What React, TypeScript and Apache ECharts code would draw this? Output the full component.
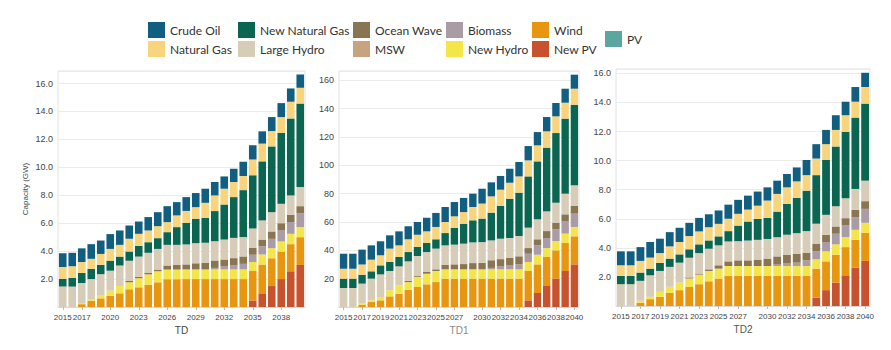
import React, { useEffect, useRef } from 'react';
import * as echarts from 'echarts';

const years = ['2015','2016','2017','2018','2019','2020','2021','2022','2023','2024','2025','2026','2027','2028','2029','2030','2031','2032','2033','2034','2035','2036','2037','2038','2039','2040'];

const tdLabelIdx = [0, 2, 5, 8, 11, 14, 17, 20, 23];
const td12LabelIdx = [0, 2, 4, 6, 8, 10, 12, 15, 17, 19, 21, 23, 25];

const stackOrder = ['New PV', 'Wind', 'New Hydro', 'Biomass', 'Ocean Wave', 'MSW', 'Large Hydro', 'New Natural Gas', 'Natural Gas', 'Crude Oil', 'PV'];
const legendRow1 = ['Crude Oil', 'New Natural Gas', 'Ocean Wave', 'Biomass', 'Wind'];
const legendRow2 = ['Natural Gas', 'Large Hydro', 'MSW', 'New Hydro', 'New PV'];
const legendExtra = ['PV'];

const colorMap: Record<string, string> = {
  'Crude Oil': '#115e80',
  'New Natural Gas': '#0b6651',
  'Ocean Wave': '#8a7552',
  'Biomass': '#a99ca4',
  'Wind': '#e8960f',
  'Natural Gas': '#f8d57d',
  'Large Hydro': '#d7ccb8',
  'MSW': '#c7a380',
  'New Hydro': '#f4e64a',
  'New PV': '#c8522e',
  'PV': '#5ba6a0',
};

// ---- TD (GW) ----
const tdNewPV = [0,0,0,0,0,0,0,0,0,0,0,0,0,0,0,0,0,0,0,0,0.47,0.98,1.5,2.0,2.56,3.01];
const tdWind = [0,0,0.2,0.45,0.62,0.81,0.98,1.27,1.41,1.6,1.77,1.99,1.99,2.0,2.0,2.0,2.0,2.0,2.0,2.0,2.1,2.06,1.99,1.97,1.94,1.99];
const tdNewHydro = [0,0,0.09,0.12,0.24,0.36,0.52,0.5,0.65,0.74,0.79,0.69,0.69,0.69,0.69,0.69,0.69,0.69,0.69,0.69,0.66,0.72,0.72,0.72,0.74,0.72];
const tdBiomass = [0,0,0,0,0,0,0,0,0,0,0,0,0,0,0,0,0.11,0.21,0.31,0.4,0.51,0.59,0.67,0.79,0.84,1.0];
const tdOceanWave = [0,0,0,0,0,0,0,0.1,0.1,0.12,0.12,0.29,0.33,0.36,0.44,0.46,0.53,0.5,0.5,0.53,0.48,0.48,0.53,0.52,0.52,0.5];
const tdMSW = [0,0,0,0,0,0,0,0,0,0,0,0,0,0,0,0,0,0,0,0,0,0,0,0,0,0];
const tdLargeHydro = [1.46,1.46,1.43,1.43,1.49,1.43,1.47,1.45,1.45,1.42,1.48,1.48,1.44,1.43,1.44,1.45,1.38,1.43,1.45,1.39,1.41,1.37,1.38,1.39,1.39,1.37];
const tdNewNaturalGas = [0.57,0.62,0.72,0.73,0.67,0.72,0.64,0.65,0.77,0.76,0.77,0.91,1.27,1.54,1.75,1.79,2.16,2.51,2.92,3.36,3.81,4.23,4.71,5.07,5.51,5.98];
const tdNaturalGas = [0.84,0.84,0.78,0.72,0.78,0.84,0.84,0.91,0.86,0.84,0.86,0.72,0.84,0.86,0.83,1.07,1.12,1.13,1.08,1.01,1.13,1.27,1.1,1.14,1.2,1.13];
const tdCrudeOil = [0.98,0.96,0.98,1.05,0.96,1.06,1.03,0.96,0.88,0.96,1.0,1.14,0.95,0.99,1.01,1.01,0.96,0.88,0.95,1.02,1.01,0.88,1.0,1.0,0.95,0.95];
const tdPV = [0,0,0,0,0,0,0,0,0,0,0,0,0,0,0,0,0,0,0,0,0,0,0,0,0,0];

// ---- TD1 ----
const td1NewPV = [0,0,0,0,0,0,0,0,0,0,0,0,0,0,0,0,0,0,0,0,4.7,9.9,15.3,20,25.4,30.1];
const td1Wind = [0,0,1.6,3.5,4.7,7.5,9.4,12.2,14.1,16,17.6,20,20,20,20,20,20,20,20,20,20.7,20.2,20,20,19.8,19.8];
const td1NewHydro = [0,0,0.8,1.2,2.3,4.3,5.9,5.4,7.1,7.5,7.8,6.6,6.6,6.6,6.6,6.6,6.6,6.6,6.6,6.6,6.4,6.8,6.3,6.6,6.6,6.6];
const td1Biomass = [0,0,0,0,0,0,0,0,0,0,0,0,0,0,0,0,1.0,2.0,3.0,3.5,5.8,6.6,7.1,8.2,8.9,9.4];
const td1OceanWave = [0,0,0,0,0,0,0,0.8,0.6,1.2,1.2,3.3,3.5,3.7,4.4,4.6,5.4,5.2,5.0,5.7,4.0,4.3,4.9,4.7,4.7,5.4];
const td1MSW = [0,0,0,0,0,0,0,0,0,0,0,0,0,0,0,0,0,0,0,0,0,0,0,0,0,0];
const td1LargeHydro = [13.4,13.4,14.1,15.3,16,13.6,13.4,13.8,14.2,14.1,14.6,13.6,13.9,14.4,14.6,14.6,14,14.4,14.1,14.3,14.4,14.1,13.9,14.1,14.6,14.6];
const td1NewNaturalGas = [6.6,6.6,6.3,5.2,6.4,6.4,6.6,6.6,6.4,6.4,6.6,8.7,11.8,14.1,15.6,16.6,19.6,23.1,27.8,30.6,36.2,40.9,45,49.2,53,56.9];
const td1NaturalGas = [7,7,7.2,8.2,7.1,9.4,8.2,9,8.6,8.2,8.7,7.8,8.2,8.2,9.4,10.6,11.5,11.5,11.3,11.5,11.3,11.3,11.5,11.8,11.2,11.3];
const td1CrudeOil = [10.6,10.6,10.5,10.1,9.9,9.4,9.9,9.2,9,9.6,9.9,10.6,10.1,10,9.4,10.5,9.9,9.7,9.8,10.2,10.1,9.4,10.1,9.4,9.9,9.9];
const td1PV = [0,0,0,0,0,0,0,0,0,0,0,0,0,0,0,0,0,0,0,0,0,0,0,0,0,0];

// ---- TD2 ----
const td2NewPV = [0,0,0,0,0,0,0,0,0,0,0,0,0,0,0,0,0,0,0,0,0.58,1.09,1.61,2.11,2.64,3.1];
const td2Wind = [0,0,0.22,0.47,0.63,0.9,1.09,1.31,1.5,1.7,1.89,2.07,2.07,2.07,2.07,2.07,2.07,2.07,2.07,2.07,1.99,1.98,1.92,1.94,1.92,1.94];
const td2NewHydro = [0,0,0.14,0.16,0.34,0.42,0.52,0.58,0.66,0.71,0.68,0.68,0.68,0.68,0.68,0.68,0.68,0.68,0.68,0.68,0.64,0.69,0.71,0.69,0.68,0.68];
const td2Biomass = [0,0,0,0,0,0,0,0,0,0,0,0,0,0,0,0,0.1,0.17,0.23,0.39,0.55,0.64,0.73,0.8,0.87,0.96];
const td2OceanWave = [0,0,0,0,0,0,0,0.07,0.07,0.11,0.23,0.32,0.39,0.39,0.44,0.51,0.56,0.61,0.62,0.53,0.53,0.5,0.5,0.5,0.5,0.53];
const td2MSW = [0,0,0,0,0,0,0,0,0,0,0,0,0,0,0,0,0,0,0,0,0,0,0,0,0,0];
const td2LargeHydro = [1.5,1.5,1.37,1.48,1.44,1.37,1.37,1.36,1.41,1.42,1.37,1.37,1.32,1.36,1.36,1.35,1.32,1.37,1.41,1.48,1.37,1.37,1.39,1.37,1.44,1.41];
const td2NewNaturalGas = [0.57,0.57,0.57,0.46,0.55,0.57,0.57,0.58,0.6,0.57,0.62,0.71,1.07,1.31,1.44,1.45,1.76,2.12,2.42,2.78,3.34,3.77,4.11,4.57,4.91,5.3];
const td2NaturalGas = [0.73,0.73,0.8,0.76,0.68,0.84,0.85,0.91,0.89,0.91,0.86,0.85,0.81,0.82,0.91,1.19,1.22,1.14,1.14,1.07,1.14,1.09,1.14,1.14,1.09,1.14];
const td2CrudeOil = [0.96,0.96,0.95,1.07,0.99,0.98,0.98,0.91,0.93,0.89,0.92,0.97,0.96,0.96,0.97,0.91,0.91,0.92,0.96,1.04,0.99,0.98,1.01,0.93,1.01,0.98];
const td2PV = [0,0,0,0,0,0,0,0,0,0,0,0,0,0,0,0,0,0,0,0,0,0,0,0,0,0];

const tdSeries = [tdNewPV, tdWind, tdNewHydro, tdBiomass, tdOceanWave, tdMSW, tdLargeHydro, tdNewNaturalGas, tdNaturalGas, tdCrudeOil, tdPV];
const td1Series = [td1NewPV, td1Wind, td1NewHydro, td1Biomass, td1OceanWave, td1MSW, td1LargeHydro, td1NewNaturalGas, td1NaturalGas, td1CrudeOil, td1PV];
const td2Series = [td2NewPV, td2Wind, td2NewHydro, td2Biomass, td2OceanWave, td2MSW, td2LargeHydro, td2NewNaturalGas, td2NaturalGas, td2CrudeOil, td2PV];

const AXIS_FONT = '"Liberation Sans Narrow", "Liberation Sans", Arial, sans-serif';
const LEGEND_FONT = 'Lato, "Open Sans", sans-serif';

export default function App() {
  const ref = useRef<HTMLDivElement>(null);
  useEffect(() => {
    if (!ref.current) return;
    const chart = echarts.init(ref.current, undefined, { renderer: 'svg' });

    const panels = [
      { data: tdSeries, name: 'TD', nameColor: '#444', labels: tdLabelIdx, max: 16.9, interval: 2, dec: 1, grid: { left: 58, top: 71, width: 247, height: 236 }, yName: 'Capacity (GW)' },
      { data: td1Series, name: 'TD1', nameColor: '#8a8a8a', labels: td12LabelIdx, max: 166.6, interval: 20, dec: 0, grid: { left: 339, top: 71, width: 240, height: 236 }, yName: '' },
      { data: td2Series, name: 'TD2', nameColor: '#555', labels: td12LabelIdx, max: 16.3, interval: 2, dec: 1, grid: { left: 616, top: 69, width: 254, height: 237 }, yName: '' },
    ];

    const legendItems: any[] = [];
    const colX = [148, 238, 353, 446, 532];
    legendRow1.forEach((n, i) => legendItems.push({ name: n, left: colX[i], top: 22 }));
    legendRow2.forEach((n, i) => legendItems.push({ name: n, left: colX[i], top: 41 }));
    legendExtra.forEach((n) => legendItems.push({ name: n, left: 605, top: 31 }));

    const option: any = {
      animation: false,
      textStyle: { fontFamily: AXIS_FONT },
      legend: legendItems.map((it) => ({
        data: [it.name],
        left: it.left,
        top: it.top,
        padding: 0,
        icon: 'rect',
        itemWidth: 17,
        itemHeight: 16,
        selectedMode: false,
        textStyle: { fontFamily: LEGEND_FONT, fontSize: 12, color: '#333' },
      })),
      grid: panels.map((p) => ({ ...p.grid, show: true, borderColor: '#e2e2e2', borderWidth: 1, containLabel: false })),
      xAxis: panels.map((p, gi) => ({
        type: 'category',
        gridIndex: gi,
        data: years,
        name: p.name,
        nameLocation: 'middle',
        nameGap: 15,
        nameTextStyle: { fontSize: 10, color: p.nameColor, fontFamily: AXIS_FONT },
        axisLine: { show: true, lineStyle: { color: '#d8d8d8' } },
        axisTick: { show: true, alignWithLabel: true, length: 3, lineStyle: { color: '#bbb' }, interval: (i: number) => p.labels.includes(i) },
        axisLabel: {
          interval: (i: number) => p.labels.includes(i),
          showMinLabel: true,
          showMaxLabel: true,
          hideOverlap: false,
          fontSize: 8,
          color: '#444',
          margin: 6,
          fontFamily: AXIS_FONT,
        },
      })),
      yAxis: panels.map((p, gi) => ({
        type: 'value',
        gridIndex: gi,
        min: 0,
        max: p.max,
        interval: p.interval,
        name: p.yName,
        nameLocation: 'middle',
        nameRotate: 90,
        nameGap: 29,
        nameTextStyle: { fontSize: 8, color: '#444', fontFamily: AXIS_FONT },
        axisLine: { show: false },
        axisTick: { show: false },
        splitLine: { show: true, lineStyle: { color: '#ebebeb', width: 1 } },
        axisLabel: {
          showMinLabel: false,
          showMaxLabel: false,
          fontSize: 9,
          color: '#444',
          margin: 5,
          fontFamily: AXIS_FONT,
          formatter: (v: number) => (v === 0 ? '' : v.toFixed(p.dec)),
        },
      })),
      series: panels.flatMap((p, gi) =>
        stackOrder.map((n, si) => ({
          type: 'bar',
          name: n,
          xAxisIndex: gi,
          yAxisIndex: gi,
          stack: 'total' + gi,
          barWidth: '80%',
          itemStyle: { color: colorMap[n] },
          emphasis: { disabled: true },
          data: p.data[si],
        }))
      ),
    };
    chart.setOption(option);
    return () => chart.dispose();
  }, []);
  return <div ref={ref} style={{ position: 'absolute', left: 0, top: 0, width: 891, height: 350, background: '#fff' }} />;
}
